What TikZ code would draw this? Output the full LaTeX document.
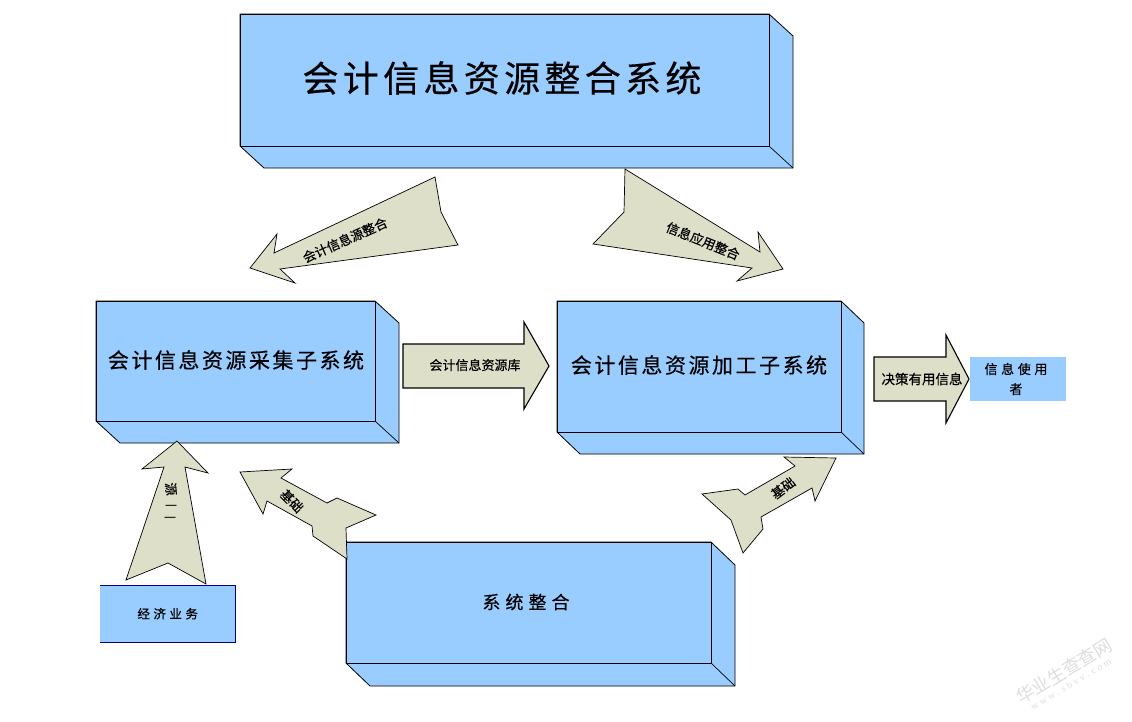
\documentclass[tikz,border=0pt]{standalone}
\usepackage{fontspec}
\setmainfont{Liberation Sans}
\newfontfamily\serifwm{Liberation Serif}
\newfontfamily\cjk{Noto Sans CJK SC}[FakeBold=0.4]
\newfontfamily\cjkplain{Noto Sans CJK SC}
\newfontfamily\cjkb{Noto Sans CJK SC}[LetterSpace=12,FakeBold=0.4]
\newfontfamily\cjkc{Noto Sans CJK SC}[LetterSpace=28,FakeBold=0.4]
\definecolor{boxblue}{HTML}{99CCFF}
\definecolor{arrowfill}{HTML}{DDDFC8}
\definecolor{wmark}{HTML}{DEDEDE}
\tikzset{
  facebox/.style={draw=black,fill=boxblue,line width=0.8pt,line join=miter},
  edgeline/.style={draw=black,line width=0.7pt},
  bigarrow/.style={draw=black,fill=arrowfill,line width=0.7pt,line join=miter},
  boldarrow/.style={draw=black,fill=arrowfill,line width=1.1pt,line join=miter},
  plainbox/.style={fill=boxblue,inner sep=0pt,anchor=north west},
  lbl/.style={inner sep=0pt,text=black,align=center},
  wm/.style={inner sep=0pt,text=wmark,rotate=31}
}
\newcommand{\threed}[7]{%
  \draw[facebox] (#1,#2) -- (#3,#2) -- (#3+#5,#2+#6) -- (#3+#5,#4+#6) -- (#1+#5,#4+#6) -- (#1,#4) -- cycle;
  \draw[edgeline] (#1,#2) rectangle (#3,#4);
  \draw[edgeline] (#3,#4) -- (#3+#5,#4+#6);
  \coordinate (#7) at ({(#1+#3)/2},{(#2+#4)/2});
}
\begin{document}
\begin{tikzpicture}[x=1pt,y=-1pt]
\useasboundingbox (0,0) rectangle (1132,721);
\fill[white] (0,0) rectangle (1132,721);

\threed{240}{14}{769}{146}{24}{22}{topc}
\threed{96}{301}{375}{421}{24}{22}{leftc}
\threed{557}{301}{841}{432}{23}{22}{midc}
\threed{346}{542}{711}{663}{24}{23}{botc}

\node[lbl,font=\cjkb\fontsize{36}{42}\selectfont] (title) at (502,78) {会计信息资源整合系统};
\node[lbl,font=\cjkb\fontsize{21}{25}\selectfont] (acq) at (236,360) {会计信息资源采集子系统};
\node[lbl,font=\cjkb\fontsize{21}{25}\selectfont] (proc) at (699,365) {会计信息资源加工子系统};
\node[lbl,font=\cjkc\fontsize{18}{22}\selectfont] (sys) at (526,602) {系统整合};

\node[plainbox,minimum width=135pt,minimum height=57pt] (biz) at (100,585) {};
\draw[draw=blue!50!black,line width=0.6pt] (biz.north west) -- (biz.north east) -- (biz.south east) -- (biz.south west);
\node[lbl,font=\cjkc\fontsize{12.5}{15}\selectfont] at (biz.center) {经济业务};

\node[plainbox,minimum width=96pt,minimum height=44pt] (user) at (970,357) {};
\node[lbl,font=\cjkc\fontsize{13}{20}\selectfont] at (1016,379) {信息使用\\者};

% arrows
\draw[bigarrow] (250,268) -- (277,234) -- (274,253) -- (435,177) -- (441,212) -- (458,245) -- (280,269) -- (295,283) -- cycle;
\node[lbl,rotate=24,font=\cjk\fontsize{13}{15}\selectfont] (a1) at (345,240) {会计信息源整合};

\draw[bigarrow] (625,169) -- (624,212) -- (593,244) -- (752,268) -- (737,281) -- (783,269) -- (758,232) -- (760,252) -- cycle;
\node[lbl,rotate=-22,font=\cjk\fontsize{13}{15}\selectfont] (a2) at (703,241) {信息应用整合};

\draw[boldarrow] (403,344) -- (524,344) -- (524,322) -- (549,366) -- (524,409) -- (524,388) -- (403,388) -- cycle;
\node[lbl,font=\cjk\fontsize{13}{15}\selectfont] (a3) at (475,365) {会计信息资源库};

\draw[boldarrow] (874,357) -- (946,357) -- (946,335) -- (969,379) -- (946,423) -- (946,401) -- (874,401) -- cycle;
\node[lbl,font=\cjk\fontsize{13.5}{15}\selectfont] (a4) at (922,379) {决策有用信息};

\draw[bigarrow] (784,457) -- (836,458) -- (815,501) -- (812,488) -- (761,517) -- (763,529) -- (743,553) -- (731,520) -- (702,494) -- (738,489) -- (745,495) -- (795,466) -- cycle;
\node[lbl,rotate=37,font=\cjk\fontsize{13}{15}\selectfont] (a5) at (783,488) {基础};

\draw[bigarrow] (177,441) -- (208,473) -- (185,467) -- (206,584) -- (168,563) -- (126,580) -- (164,467) -- (142,469) -- cycle;
\node[lbl,rotate=-85,font=\cjk\fontsize{13}{15}\selectfont] (a6) at (171,489) {源};
\node[lbl,font=\cjkplain\fontsize{12}{14}\selectfont] (a6b) at (171,508) {一};
\node[lbl,font=\cjkplain\fontsize{12}{14}\selectfont] (a6c) at (170,520) {一};

\draw[bigarrow] (240,472) -- (292,469) -- (281,478) -- (327,503) -- (337,498) -- (376,515) -- (346,528) -- (347,559) -- (313,536) -- (312,526) -- (267,501) -- (263,514) -- cycle;
\node[lbl,rotate=-45,font=\cjk\fontsize{13}{15}\selectfont] (a7) at (292,501) {基础};

% watermark
\node[wm,font=\cjkplain\fontsize{18}{20}\selectfont] (wm1) at (1064,671) {华业生查查网};
\node[wm,font=\serifwm\fontsize{10}{12}\selectfont] (wm2) at (1071,684) {w w w . s b v v . c o m};
\end{tikzpicture}
\end{document}
